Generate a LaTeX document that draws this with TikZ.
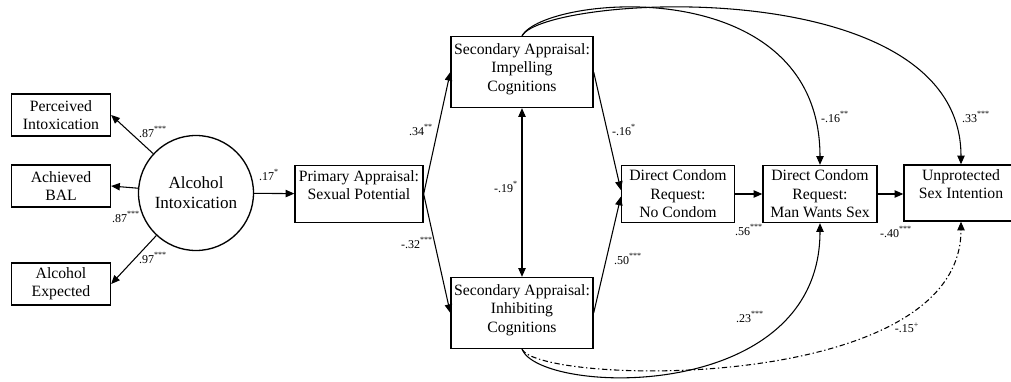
\documentclass[tikz,border=0pt]{standalone}
\usepackage{fontspec}
\setmainfont{Liberation Serif}
\usetikzlibrary{arrows.meta,positioning}

\newcommand{\coef}[2]{#1\textsuperscript{#2}}

\begin{document}
\begin{tikzpicture}[
    x=0.75pt, y=-0.75pt,
    box/.style={rectangle, draw, line width=1pt, align=center, inner sep=1pt, font=\fontsize{11.8}{13.8}\selectfont},
    indicator/.style={box, minimum width=74.25pt, minimum height=31.5pt},
    latent/.style={circle, draw, line width=1pt, align=center, inner sep=0pt, minimum size=86.25pt, font=\fontsize{12.8}{15}\selectfont},
    coeflabel/.style={font=\fontsize{9}{10}\selectfont, inner sep=0pt},
    arrow/.style={-{Triangle[length=6.5pt,width=5.5pt]}, line width=0.8pt},
    dashdot/.style={dash pattern=on 4pt off 2pt on 1pt off 2pt}
]
\useasboundingbox (0,0) rectangle (1011,382);

% Indicators
\node[indicator] (perc) at (61,115) {Perceived\\Intoxication};
\node[indicator] (bal) at (61,186) {Achieved\\BAL};
\node[indicator] (expct) at (61,284) {Alcohol\\Expected};

% Latent variable
\node[latent] (alc) at (196,193) {Alcohol\\Intoxication};

% Appraisals
\node[box, minimum width=96pt, minimum height=42.75pt] (prim) at (359,194) {Primary Appraisal:\\Sexual Potential\\\mbox{}};
\node[box, minimum width=106.5pt, minimum height=53.25pt] (imp) at (522,72) {Secondary Appraisal:\\Impelling\\Cognitions\\[-7pt]\mbox{}};
\node[box, minimum width=106.5pt, minimum height=53.25pt] (inh) at (522,313) {Secondary Appraisal:\\Inhibiting\\Cognitions\\[-7pt]\mbox{}};

% Outcomes
\node[box, minimum width=84.75pt, minimum height=42.75pt] (nocond) at (678,194) {Direct Condom\\Request:\\No Condom};
\node[box, minimum width=85.5pt, minimum height=42.75pt] (man) at (820,194) {Direct Condom\\Request:\\Man Wants Sex};
\node[box, minimum width=85.5pt, minimum height=42pt] (unprot) at (961,193) {Unprotected\\Sex Intention\\\mbox{}};

% Arrows
\draw[arrow] (alc) -- (perc.east);
\draw[arrow] (alc) -- (bal.east);
\draw[arrow] (alc) -- (expct.east);
\draw[arrow] (alc) -- (prim);
\draw[arrow] (prim.east) -- (imp.west);
\draw[arrow] (prim.east) -- (inh.west);
\draw[arrow, {Triangle[length=6.5pt,width=5.5pt]}-{Triangle[length=6.5pt,width=5.5pt]}] (imp) -- (inh);
\draw[arrow] (imp.east) -- ([yshift=3pt]nocond.west);
\draw[arrow] (inh.east) -- ([yshift=-2pt]nocond.west);
\draw[arrow] (nocond) -- (man);
\draw[arrow] (man) -- (unprot.west |- man);

% Direct paths
\draw[arrow] (imp.north) .. controls (545,-5) and (820,-30) .. (man.north);
\draw[arrow] (imp.north) .. controls (545,-5) and (961,-30) .. (unprot.north);
\draw[arrow] (inh.south) .. controls (540,395) and (820,405) .. (man.south);
\draw[arrow, dashdot] (inh.south) .. controls (540,385) and (961,395) .. (unprot.south);

% Coefficients
\foreach \x/\y/\t [count=\i] in {
    153/132/\coef{.87}{***}, 126/217/\coef{.87}{***}, 153/258/\coef{.97}{***},
    269/175/\coef{.17}{*}, 421/130/\coef{.34}{**}, 417/243/\coef{-.32}{***},
    506/187/\coef{-.19}{*}, 624/130/\coef{-.16}{*}, 628/259/\coef{.50}{***},
    749/230/\coef{.56}{***}, 896/232/\coef{-.40}{***}, 835/117/\coef{-.16}{**},
    976/117/\coef{.33}{***}, 750/317/\coef{.23}{***}, 907/328/\coef{-.15}{+}}
  \node[coeflabel] (lab\i) at (\x,\y) {\t};

\end{tikzpicture}
\end{document}
